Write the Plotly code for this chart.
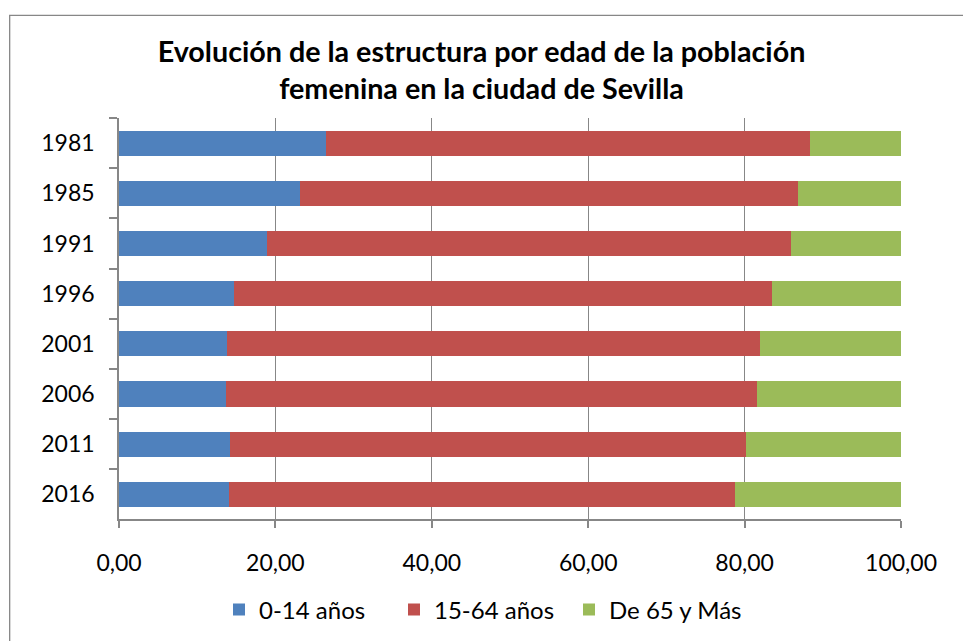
import plotly.graph_objects as go

years = ["1981", "1985", "1991", "1996", "2001", "2006", "2011", "2016"]
age_0_14 = [26.46, 23.14, 18.93, 14.72, 13.87, 13.70, 14.13, 14.08]
age_15_64 = [61.86, 63.65, 67.01, 68.84, 68.07, 67.86, 66.02, 64.68]
age_65_plus = [11.68, 13.21, 14.06, 16.44, 18.06, 18.44, 19.85, 21.24]

series = [
    ("0-14 años", age_0_14, "#4F81BD"),
    ("15-64 años", age_15_64, "#C0504D"),
    ("De 65 y Más", age_65_plus, "#9BBB59"),
]

FONT = "Lato, 'Open Sans', sans-serif"
GRID = "#878787"

fig = go.Figure()
for name, vals, color in series:
    fig.add_trace(go.Bar(
        y=years, x=vals, name=name, orientation="h",
        marker=dict(color=color, line=dict(width=0)),
    ))

# chart border (runs off the right and bottom edges like the original)
fig.add_shape(type="rect", xref="paper", yref="paper",
              x0=-0.1398, x1=1.3, y0=-0.5, y1=1.2555,
              line=dict(color=GRID, width=1.3), layer="below")

fig.update_layout(
    width=963, height=641,
    margin=dict(l=118.5, r=61.5, t=118.3, b=109.3),
    paper_bgcolor="white", plot_bgcolor="white",
    barmode="stack", bargap=0.5,
    separators=",.",
    font=dict(family=FONT, size=23, color="black"),
    title=dict(
        text="<b>Evolución de la estructura por edad de la población<br>femenina en la ciudad de Sevilla</b>",
        x=0.5, xanchor="center", xref="container",
        y=1 - 62 / 641, yanchor="top", yref="container",
        font=dict(family=FONT, size=28.7, color="black"),
    ),
    legend=dict(
        orientation="h", xref="container", yref="container",
        x=0.5, xanchor="center", y=1 - 610 / 641, yanchor="middle",
        font=dict(family=FONT, size=24), traceorder="normal",
        entrywidth=130,
    ),
    xaxis=dict(
        range=[0, 100], dtick=20, tickformat=".2f",
        showgrid=True, gridcolor=GRID, gridwidth=1.3,
        showline=True, linecolor=GRID, linewidth=1.5,
        ticks="outside", ticklen=7, tickcolor=GRID, tickwidth=1.5,
        ticklabelstandoff=15, zeroline=False,
    ),
    yaxis=dict(
        type="category", autorange="reversed",
        showgrid=False, showline=True, linecolor=GRID, linewidth=1.5,
        ticks="outside", tickson="boundaries", ticklen=8,
        tickcolor=GRID, tickwidth=1.5, ticklabelstandoff=18,
    ),
)

# the page body has a default 8px margin; drop it so the figure sits at 0,0
fig.write_html("out.html", config={"displayModeBar": False},
               post_script="document.body.style.margin='0';")
